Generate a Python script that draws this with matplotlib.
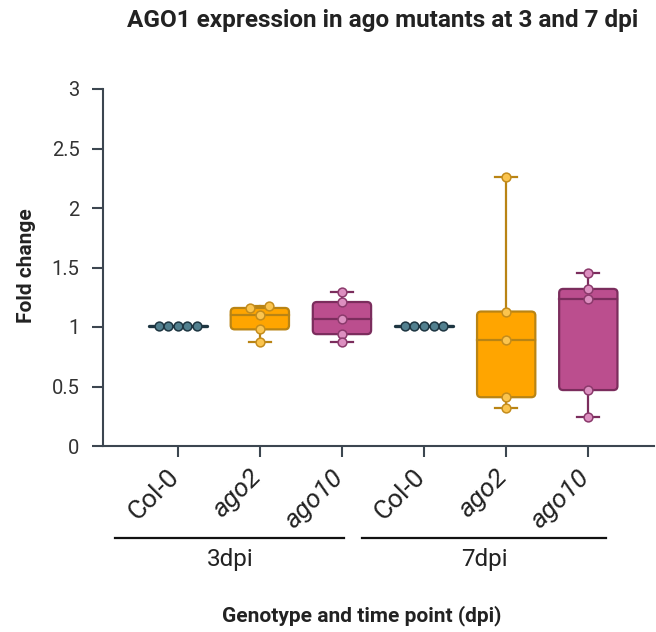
import numpy as np
import matplotlib
matplotlib.use("Agg")
import matplotlib.pyplot as plt
from matplotlib.patches import FancyBboxPatch
from matplotlib.transforms import ScaledTranslation
from matplotlib import cbook

plt.rcParams['font.family'] = ['Roboto', 'DejaVu Sans']

# fold change values per genotype / time point
genotypes = ["Col-0", "ago2", "ago10", "Col-0", "ago2", "ago10"]
timepoints = ["3dpi", "7dpi"]
col0_3dpi = [1.01, 1.01, 1.01, 1.01, 1.01]
ago2_3dpi = [1.16, 1.18, 1.10, 0.98, 0.87]
ago10_3dpi = [1.29, 1.21, 1.065, 0.94, 0.875]
col0_7dpi = [1.01, 1.01, 1.01, 1.01, 1.01]
ago2_7dpi = [2.26, 1.13, 0.89, 0.41, 0.32]
ago10_7dpi = [1.455, 1.32, 1.235, 0.47, 0.245]
yticks = [0, 0.5, 1, 1.5, 2, 2.5, 3]

series = [col0_3dpi, ago2_3dpi, ago10_3dpi, col0_7dpi, ago2_7dpi, ago10_7dpi]

# colours: (box fill, edge, dot fill, dot edge)
styles = {
    "Col-0": ("#4d7888", "#1e3642", "#52808f", "#1e3642"),
    "ago2": ("#ffa500", "#b98414", "#fbc44e", "#c48c1c"),
    "ago10": ("#bb4e8e", "#7b2d5d", "#dc8fc0", "#8b3a6c"),
}

fig = plt.figure(figsize=(6.56, 6.32), dpi=100)
ax = fig.add_axes([103 / 656, 1 - 446 / 632, (654 - 103) / 656, (446 - 89) / 632])
ax.set_xlim(-0.91, 5.80)
ax.set_ylim(0, 3)

box_w = 0.71
cap_w = 0.27

# pixel scale, used for rounded corners and dot spreading
p0 = ax.transData.transform((0, 0))
p1 = ax.transData.transform((1, 1))
px_x, px_y = p1[0] - p0[0], p1[1] - p0[1]


def spread(vals, near=5.0, step=9.6):
    # points closer than `near` px are put side by side, low values on the left
    order = list(np.argsort(vals, kind='stable'))
    clusters = [[order[0]]]
    for i in order[1:]:
        if (vals[i] - vals[clusters[-1][-1]]) * px_y < near:
            clusters[-1].append(i)
        else:
            clusters.append([i])
    out = [0.0] * len(vals)
    for c in clusters:
        n = len(c)
        if n % 2:
            slots = [k - n // 2 for k in range(n)]
        else:
            slots = [k - n // 2 for k in range(n // 2)] + [k + 1 for k in range(n // 2)]
        for i, k in zip(c, slots):
            out[i] = k * step / px_x
    return out


for pos, (name, vals) in enumerate(zip(genotypes, series)):
    fill, edge, dfill, dedge = styles[name]
    st = cbook.boxplot_stats(np.array(vals), whis=(0, 100))[0]
    q1, med, q3 = st["q1"], st["med"], st["q3"]
    lo, hi = st["whislo"], st["whishi"]
    x0 = pos - box_w / 2
    if q3 - q1 > 0.02:
        ax.plot([pos, pos], [q3, hi], color=edge, lw=1.6, zorder=2)
        ax.plot([pos, pos], [lo, q1], color=edge, lw=1.6, zorder=2)
        ax.plot([pos - cap_w / 2, pos + cap_w / 2], [hi, hi], color=edge, lw=1.6, zorder=2)
        ax.plot([pos - cap_w / 2, pos + cap_w / 2], [lo, lo], color=edge, lw=1.6, zorder=2)
        r = 4 / px_x
        box = FancyBboxPatch((x0, q1), box_w, q3 - q1,
                             boxstyle=f"round,pad=0,rounding_size={r}",
                             mutation_aspect=px_x / px_y,
                             facecolor=fill, edgecolor=edge, lw=1.6, zorder=3)
        ax.add_patch(box)
        ax.plot([x0, x0 + box_w], [med, med], color=edge, lw=1.6, zorder=4)
    else:
        ax.plot([x0, x0 + box_w], [med, med], color=edge, lw=2.4,
                solid_capstyle='round', zorder=4)
    offs = spread(vals)
    ax.scatter([pos + o for o in offs], vals, s=40, facecolor=dfill,
               edgecolor=dedge, linewidth=1.1, zorder=5)

# axes styling
spine_col = "#3c4650"
for s in ["top", "right"]:
    ax.spines[s].set_visible(False)
for s in ["left", "bottom"]:
    ax.spines[s].set_color(spine_col)
    ax.spines[s].set_linewidth(1.5)
ax.tick_params(axis='both', colors=spine_col, width=1.5, length=8, direction='out')
ax.tick_params(axis='y', labelsize=14.5, labelcolor="#333333", pad=9)
ax.set_yticks(yticks)
ax.set_yticklabels([f"{t:g}" for t in yticks])

# rotated genotype labels, drawn as plain texts so they can sit right of the ticks
ax.set_xticks(range(len(genotypes)))
ax.set_xticklabels([])
lab_trans = ax.get_xaxis_transform() + ScaledTranslation(6 / 100, -19 / 100, fig.dpi_scale_trans)
for pos, name in enumerate(genotypes):
    ax.text(pos, 0, name, transform=lab_trans, rotation=45, ha='right', va='top',
            fontsize=19, color="#222222",
            fontstyle='normal' if name == "Col-0" else 'italic')

# time point brackets under the tick labels
trans = ax.get_xaxis_transform()
for (a, b), tp in zip([(-0.76, 2.03), (2.25, 5.22)], timepoints):
    ax.plot([a, b], [-0.258, -0.258], color="#111111", lw=1.6,
            transform=trans, clip_on=False)
    ax.text((a + b) / 2, -0.318, tp, transform=trans, ha='center', va='center',
            fontsize=17.5, color="#222222")

fig.text(27 / 656, 1 - 266 / 632, "Fold change", rotation=90, ha='center',
         va='center', fontsize=15, fontweight='bold', color="#222222")
fig.text(362 / 656, 1 - 616 / 632, "Genotype and time point (dpi)", ha='center',
         va='center', fontsize=15, fontweight='bold', color="#222222")
fig.text(383 / 656, 1 - 20 / 632, "AGO1 expression in ago mutants at 3 and 7 dpi",
         ha='center', va='center', fontsize=17.5, fontweight='bold', color="#222222")

fig.savefig("out.png", dpi=100)
